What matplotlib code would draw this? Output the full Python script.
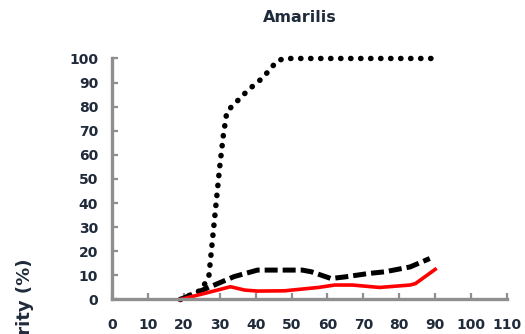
import matplotlib
matplotlib.use("Agg")
import matplotlib.pyplot as plt

# reading off the reference (days vs severity %)
dot_x = [19, 25, 27, 28, 29, 30, 31, 32, 34, 38, 42, 46, 48, 90]
dot_y = [0, 4, 10, 25, 40, 55, 68, 78, 81, 87, 92, 99, 100, 100]

dash_x = [19, 28.5, 34, 40.5, 53, 55.5, 61, 65, 71.5, 76, 83, 88.5]
dash_y = [0, 6, 9.5, 12.2, 12.2, 11.5, 8.7, 9.4, 10.8, 11.5, 13.5, 17]

red_x = [19, 26.5, 33, 37, 40.5, 48, 57.5, 62, 67, 74.5, 83, 84.5, 90]
red_y = [0, 2.8, 5.3, 3.9, 3.5, 3.6, 5, 6, 6, 5, 6, 6.6, 12.5]

xticks = list(range(0, 111, 10))
yticks = list(range(0, 101, 10))

txt = '#1f2a3a'
spine = '#8f8f8f'

fig = plt.figure(figsize=(5.25, 3.34), dpi=100)
ax = fig.add_axes([0.2133, 0.1033, 0.7524, 0.7216])

ax.plot(dot_x, dot_y, color='black', lw=4.0, linestyle=(0, (0.05, 1.75)),
        dash_capstyle='round', solid_capstyle='round')
ax.plot(dash_x, dash_y, color='black', lw=3.6, linestyle=(0, (2.6, 1.0)),
        dash_capstyle='butt')
ax.plot(red_x, red_y, color='red', lw=2.6, solid_joinstyle='round')

ax.set_xlim(0, 110)
ax.set_ylim(0, 100)
ax.set_xticks(xticks)
ax.set_yticks(yticks)
ax.spines['top'].set_visible(False)
ax.spines['right'].set_visible(False)
for s in ['left', 'bottom']:
    ax.spines[s].set_color(spine)
    ax.spines[s].set_linewidth(2.4)
ax.tick_params(axis='both', direction='in', length=4, width=1.6, color=spine,
               labelsize=10, labelcolor=txt)
ax.tick_params(axis='x', pad=13)
ax.tick_params(axis='y', pad=10)
for lab in ax.get_xticklabels() + ax.get_yticklabels():
    lab.set_fontweight('bold')
for ln in ax.lines:
    ln.set_clip_on(False)

fig.text(300 / 525, 1 - 17 / 334, 'Amarilis', ha='center', va='center',
         fontsize=11.5, fontweight='bold', color=txt)
# the y label runs off the bottom edge in the reference too
fig.text(25 / 525, 1 - 258 / 334, 'Severity (%)', rotation=90, ha='center',
         va='top', fontsize=13, fontweight='bold', color=txt)

fig.savefig('out.png', dpi=100)
